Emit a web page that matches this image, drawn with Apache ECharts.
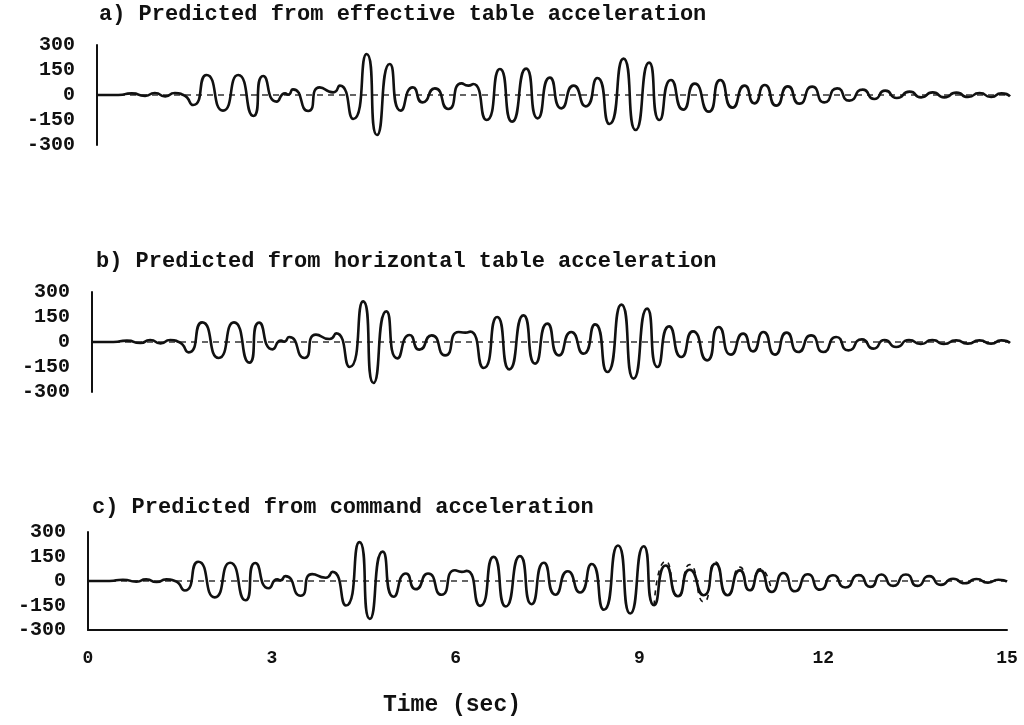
<!DOCTYPE html>
<html>
<head>
<meta charset="utf-8">
<title>Predicted response</title>
<script src="https://cdn.jsdelivr.net/npm/echarts@6/dist/echarts.min.js"></script>
<style>
  html, body { margin: 0; padding: 0; background: #fff; }
  #chart { width: 1024px; height: 725px; }
</style>
</head>
<body>
<div id="chart"></div>
<script>
// peak / trough times (sec)
const peakTimes = [
  0.00, 0.35, 0.57, 0.79, 0.95, 1.12, 1.28, 1.42, 1.58, 1.80,
  2.07, 2.32, 2.57, 2.73, 2.95, 3.09, 3.14, 3.22, 3.47, 3.66,
  3.88, 3.99, 4.21, 4.43, 4.60, 4.81, 4.99, 5.19, 5.35, 5.55,
  5.77, 5.99, 6.10, 6.18, 6.40, 6.62, 6.82, 7.05, 7.24, 7.44,
  7.63, 7.83, 8.03, 8.22, 8.42, 8.65, 8.85, 9.07, 9.24, 9.43,
  9.63, 9.82, 10.05, 10.24, 10.44, 10.64, 10.80, 10.97, 11.16, 11.35,
  11.54, 11.75, 11.95, 12.16, 12.36, 12.58, 12.77, 12.95, 13.14, 13.35,
  13.54, 13.73, 13.92, 14.12, 14.31, 14.50, 14.69, 14.86, 15.00
];

// a) predicted from effective table acceleration
const accelA = [
  0, 0, 10, -5, 12, -8, 12, 0, -60, 120,
  -94, 120, -126, 114, -40, 10, 2, 34, -96, 46,
  16, 56, -144, 246, -240, 186, -94, 46, -44, 40,
  -84, 70, 56, 66, -150, 156, -160, 158, -140, 104,
  -80, 56, -68, 102, -174, 218, -210, 194, -150, 90,
  -88, 68, -100, 90, -76, 56, -50, 60, -64, 52,
  -52, 50, -44, 40, -34, 32, -24, 26, -18, 20,
  -14, 16, -14, 14, -12, 12, -12, 10, -8
];

// b) predicted from horizontal table acceleration
const accelB = [
  0, 0, 8, -6, 12, -8, 12, 0, -62, 118,
  -96, 118, -124, 116, -44, 8, 2, 30, -96, 44,
  18, 52, -150, 244, -246, 184, -98, 42, -46, 40,
  -80, 60, 56, 62, -156, 150, -164, 160, -130, 110,
  -80, 60, -70, 106, -180, 224, -220, 200, -150, 94,
  -90, 64, -110, 90, -76, 50, -56, 60, -76, 56,
  -60, 40, -60, 30, -50, 16, -40, 12, -30, 12,
  -12, 12, -12, 10, -10, 10, -10, 10, -6
];

// c) predicted from command acceleration
const accelC = [
  0, 0, 8, -4, 10, -6, 10, 0, -58, 118,
  -100, 112, -118, 110, -44, 10, 4, 30, -90, 42,
  20, 56, -150, 238, -232, 180, -96, 46, -50, 46,
  -84, 66, 56, 62, -152, 148, -156, 152, -142, 112,
  -84, 60, -70, 104, -176, 217, -199, 213, -148, 95,
  -93, 69, -87, 106, -87, 65, -57, 65, -67, 49,
  -63, 41, -53, 35, -40, 36, -36, 40, -30, 40,
  -30, 30, -24, 14, -14, 12, -10, 8, -4
];

// c) measured response (dashed), only where it departs from the prediction
const measuredC = [
  null, null, null, null, null, null, null, null, null, null,
  null, null, null, null, null, null, null, null, null, null,
  null, null, null, null, null, null, null, null, null, null,
  null, null, null, null, null, null, null, null, null, null,
  null, null, null, null, null, null, null, null, -148, 122,
  -100, 100, -128, 116, -90, 85, -60, 75, -67, null,
  null, null, null, null, null, null, null, null, null, null,
  null, null, null, null, null, null, null, null, null
];

const titles = [
  'a) Predicted from effective table acceleration',
  'b) Predicted from horizontal table acceleration',
  'c) Predicted from command acceleration'
];
const yTicks = [-300, -150, 0, 150, 300];
const xTicks = [0, 3, 6, 9, 12, 15];

function pairs(vals) {
  return peakTimes.map((t, i) => [t, vals[i]]);
}

const monoFont = '"Liberation Mono", "DejaVu Sans Mono", monospace';
const grids = [
  { left: 97, right: 14, top: 45, height: 100 },
  { left: 92, right: 14, top: 292, height: 100 },
  { left: 88, right: 17, top: 532, height: 98 }
];
const titleLefts = [99, 96, 92];
const titleTops = [3, 250, 496];

const option = {
  backgroundColor: '#fff',
  animation: false,
  title: titles.map((t, i) => ({
    text: t,
    left: titleLefts[i],
    top: titleTops[i],
    padding: 0,
    textStyle: { fontFamily: monoFont, fontSize: 22, fontWeight: 'bold', color: '#111' }
  })).concat([{
    text: 'Time (sec)',
    left: 383,
    top: 694,
    padding: 0,
    textStyle: { fontFamily: monoFont, fontSize: 23, fontWeight: 'bold', color: '#111' }
  }]),
  grid: grids,
  xAxis: grids.map((g, i) => ({
    type: 'value',
    gridIndex: i,
    min: 0,
    max: 15,
    interval: 3,
    show: i === 2,
    axisLine: { show: true, onZero: false, lineStyle: { color: '#111', width: 2 } },
    axisTick: { show: false },
    splitLine: { show: false },
    axisLabel: {
      margin: 19,
      fontFamily: monoFont,
      fontSize: 18,
      fontWeight: 'bold',
      color: '#111',
      formatter: v => (xTicks.includes(v) ? String(v) : '')
    }
  })),
  yAxis: grids.map((g, i) => ({
    type: 'value',
    gridIndex: i,
    min: -300,
    max: 300,
    interval: 150,
    axisLine: { show: true, lineStyle: { color: '#111', width: 2 } },
    axisTick: { show: false },
    splitLine: { show: false },
    axisLabel: {
      margin: 22,
      fontFamily: monoFont,
      fontSize: 20,
      fontWeight: 'bold',
      color: '#111',
      formatter: v => (yTicks.includes(v) ? String(v) : '')
    }
  })),
  series: []
};

const predicted = [accelA, accelB, accelC];
predicted.forEach((vals, i) => {
  // dashed zero reference
  option.series.push({
    type: 'line',
    xAxisIndex: i,
    yAxisIndex: i,
    data: [[0, 0], [15, 0]],
    symbol: 'none',
    silent: true,
    lineStyle: { color: '#333', width: 1.3, type: [6, 5] }
  });
  option.series.push({
    type: 'line',
    xAxisIndex: i,
    yAxisIndex: i,
    data: pairs(vals),
    symbol: 'none',
    smooth: 0.7,
    lineStyle: { color: '#111', width: 2.6 }
  });
});

option.series.push({
  type: 'line',
  xAxisIndex: 2,
  yAxisIndex: 2,
  data: pairs(measuredC),
  symbol: 'none',
  smooth: 0.7,
  connectNulls: false,
  lineStyle: { color: '#111', width: 1.6, type: [5, 5] }
});

const chart = echarts.init(document.getElementById('chart'));
chart.setOption(option);
window.addEventListener('resize', () => chart.resize());
</script>
</body>
</html>
